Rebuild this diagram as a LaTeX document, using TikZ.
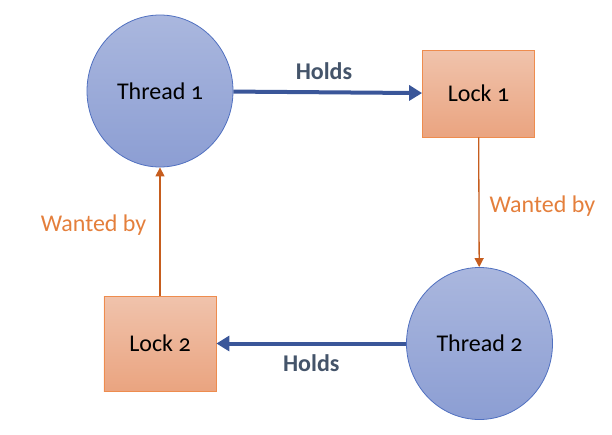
\documentclass[tikz,border=0pt]{standalone}
\usepackage{fontspec}
\setmainfont{Carlito}[Numbers=OldStyle]
\usepackage{tikz}
\usetikzlibrary{shapes,arrows.meta,positioning,calc}
\definecolor{threadtop}{HTML}{AAB7DE}
\definecolor{threadbot}{HTML}{8C9ED3}
\definecolor{threadline}{HTML}{5070C0}
\definecolor{locktop}{HTML}{F0C3AC}
\definecolor{lockbot}{HTML}{EAA480}
\definecolor{lockline}{HTML}{EE8C4E}
\definecolor{holdline}{HTML}{3A5699}
\definecolor{holdtext}{HTML}{44546A}
\definecolor{wantline}{HTML}{C65D1E}
\definecolor{wanttext}{HTML}{E47F3C}
\newcommand{\bigfont}{\fontsize{24}{28}\selectfont}
\tikzset{
thread/.style = {draw=threadline, line width=0.8pt, ellipse, top color=threadtop, bottom color=threadbot, minimum width=146pt, minimum height=152pt, inner sep=0pt, font=\bigfont},
lock/.style = {draw=lockline, line width=0.8pt, rectangle, top color=locktop, bottom color=lockbot, minimum width=112pt, minimum height=90pt, font=\bigfont},
holds/.style = {draw=holdline, line width=4pt, -{Triangle[length=13pt,width=15pt]}},
wanted/.style = {draw=wantline, line width=1.3pt, -{Triangle[length=9pt,width=9pt]}},
holdlabel/.style = {text=holdtext, font=\bigfont\bfseries},
wantlabel/.style = {text=wanttext, font=\bigfont}
}
\begin{document}
\begin{tikzpicture}[auto, x=1pt, y=1pt]
                \useasboundingbox (-160,91) rectangle (452,-343);

                \node [thread] (thread1) {Thread 1};
                \node [lock, right of=thread1, node distance=318.5pt, yshift=-2.5pt, minimum height=87pt] (lock1) {Lock 1};
                \node [lock, below of=thread1, node distance=252.5pt, minimum height=95pt] (lock2) {Lock 2};
                \node [thread, right of=lock2, node distance=319.5pt] (thread2) {Thread 2};

                \draw [holds] (thread1) -- node [holdlabel, inner sep=11pt, pos=0.48] {Holds} (lock1);
                \draw [wanted] (lock1) -- node [wantlabel, inner sep=10pt, pos=0.53] {Wanted by} (thread2);
                \draw [holds] (thread2) -- node [holdlabel, inner sep=9pt] {Holds} (lock2);
                \draw [wanted] (lock2) -- node [wantlabel, inner sep=13pt, pos=0.55] {Wanted by} (thread1);
            \end{tikzpicture}
\end{document}
